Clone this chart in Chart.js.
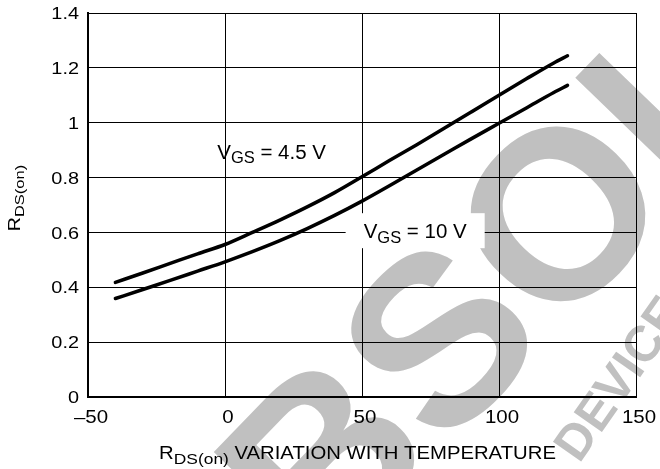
<!DOCTYPE html>
<html>
<head>
<meta charset="utf-8">
<script src="https://cdn.jsdelivr.net/npm/chart.js@4"></script>
<style>
  html, body { margin: 0; padding: 0; background: #fff; }
  #c { display: block; }
</style>
</head>
<body>
<canvas id="c" width="660" height="469"></canvas>
<script>
// ---- data ----
const temperatures = [-40, -30, -20, -10, 0, 10, 20, 30, 40, 50, 60, 70, 80, 90, 100, 110, 120, 125];
const rdsVgs45 = [0.418, 0.452, 0.487, 0.522, 0.556, 0.600, 0.645, 0.693, 0.745, 0.803, 0.862, 0.920, 0.980, 1.040, 1.100, 1.160, 1.218, 1.244];
const rdsVgs10 = [0.359, 0.392, 0.425, 0.459, 0.493, 0.530, 0.570, 0.614, 0.662, 0.714, 0.770, 0.828, 0.885, 0.942, 0.998, 1.054, 1.110, 1.136];
const xTickValues = [-50, 0, 50, 100, 150];
const xTickLabels = ['\u201350', '0', '50', '100', '150'];
const yTickValues = [0, 0.2, 0.4, 0.6, 0.8, 1, 1.2, 1.4];
const yTickLabels = ['0', '0.2', '0.4', '0.6', '0.8', '1', '1.2', '1.4'];
const seriesLabels = [
  { main: 'V', sub: 'GS', rest: ' = 4.5 V', t: 17, v: 0.868, box: false },
  { main: 'V', sub: 'GS', rest: ' = 10 V', t: 69.4, v: 0.579, box: true }
];

const FONT = '"Liberation Sans", Arial, Helvetica, sans-serif';

function setFont(ctx, size, bold) { ctx.font = (bold ? 'bold ' : '') + size + 'px ' + FONT; }

// draws text made of parts (some subscripted), horizontally stretched by sx
function drawParts(ctx, parts, x, y, size, subSize, subDrop, sx, align) {
  let total = 0;
  const widths = parts.map(p => { setFont(ctx, p.sub ? subSize : size); const w = ctx.measureText(p.text).width * sx; total += w; return w; });
  let cx = align === 'center' ? x - total / 2 : (align === 'right' ? x - total : x);
  ctx.textAlign = 'left';
  ctx.textBaseline = 'alphabetic';
  parts.forEach((p, i) => {
    setFont(ctx, p.sub ? subSize : size);
    ctx.save();
    ctx.translate(cx, p.sub ? y + subDrop : y);
    ctx.scale(sx, 1);
    ctx.fillText(p.text, 0, 0);
    ctx.restore();
    cx += widths[i];
  });
  return total;
}

const watermark = {
  id: 'watermark',
  beforeDraw(chart) {
    const ctx = chart.ctx;
    ctx.save();
    ctx.fillStyle = '#c0c0c0';
    ctx.save();
    ctx.translate(450, 350);
    ctx.rotate(-46 * Math.PI / 180);
    setFont(ctx, 240, true);
    const wOB = ctx.measureText('OB').width;
    const wS = ctx.measureText('S').width;
    ctx.textAlign = 'left';
    ctx.textBaseline = 'middle';
    ctx.fillText('OBSOLETE', -(wOB + wS / 2), 0);
    ctx.restore();
    ctx.save();
    ctx.translate(620, 382);
    ctx.rotate(-55 * Math.PI / 180);
    setFont(ctx, 50, true);
    const wD = ctx.measureText('DEV').width;
    ctx.textAlign = 'left';
    ctx.textBaseline = 'middle';
    ctx.fillText('DEVICE', -wD + 12, 0);
    ctx.restore();
    ctx.restore();
  }
};

const annotations = {
  id: 'annotations',
  beforeDatasetsDraw(chart) {
    const ctx = chart.ctx;
    const xs = chart.scales.x, ys = chart.scales.y;
    ctx.save();
    seriesLabels.forEach(l => {
      const px = xs.getPixelForValue(l.t);
      const py = ys.getPixelForValue(l.v);
      const parts = [{ text: l.main }, { text: l.sub, sub: true }, { text: l.rest }];
      let total = 0;
      parts.forEach(p => { setFont(ctx, p.sub ? 16.5 : 20.5); total += ctx.measureText(p.text).width; });
      if (l.box) {
        ctx.fillStyle = '#fff';
        ctx.fillRect(px - total / 2 - 18, py - 25, total + 36, 35);
      }
      ctx.fillStyle = '#000';
      drawParts(ctx, parts, px, py, 20.5, 16.5, 4.5, 1, 'center');
    });
    ctx.restore();
  },
  afterDraw(chart) {
    const ctx = chart.ctx;
    const xs = chart.scales.x, ys = chart.scales.y;
    ctx.save();
    ctx.fillStyle = '#000';
    yTickValues.forEach((v, i) => {
      const py = ys.getPixelForValue(v);
      drawParts(ctx, [{ text: yTickLabels[i] }], 79, py + 6.2, 17, 13, 0, 1.17, 'right');
    });
    xTickValues.forEach((v, i) => {
      const px = xs.getPixelForValue(v);
      drawParts(ctx, [{ text: xTickLabels[i] }], px + 3, 423, 17.5, 13, 0, 1.17, 'center');
    });
    drawParts(ctx, [{ text: 'R' }, { text: 'DS(on)', sub: true }, { text: ' VARIATION WITH TEMPERATURE' }],
      357.5, 459, 17.5, 15, 4.5, 1.16, 'center');
    ctx.translate(20, 198);
    ctx.rotate(-Math.PI / 2);
    drawParts(ctx, [{ text: 'R' }, { text: 'DS(on)', sub: true }], 0, 0, 16, 13.5, 4, 1.22, 'center');
    ctx.restore();
  }
};

new Chart(document.getElementById('c'), {
  type: 'line',
  data: {
    datasets: [
      {
        label: 'VGS = 4.5 V',
        data: temperatures.map((t, i) => ({ x: t, y: rdsVgs45[i] })),
        borderColor: '#000', borderWidth: 3.5, pointRadius: 0,
        cubicInterpolationMode: 'monotone', fill: false, borderCapStyle: 'round'
      },
      {
        label: 'VGS = 10 V',
        data: temperatures.map((t, i) => ({ x: t, y: rdsVgs10[i] })),
        borderColor: '#000', borderWidth: 3.5, pointRadius: 0,
        cubicInterpolationMode: 'monotone', fill: false, borderCapStyle: 'round'
      }
    ]
  },
  options: {
    responsive: false,
    animation: false,
    devicePixelRatio: 1,
    layout: { padding: { top: 13, right: 24, left: 0, bottom: 0 } },
    plugins: { legend: { display: false }, tooltip: { enabled: false } },
    scales: {
      x: {
        type: 'linear', min: -50, max: 150,
        afterFit(s) { s.height = 72; s.paddingLeft = 0; s.paddingRight = 0; },
        ticks: { stepSize: 50, display: false },
        grid: { color: '#000', lineWidth: 1, drawTicks: false },
        border: { color: '#000', width: 2 }
      },
      y: {
        type: 'linear', min: 0, max: 1.4,
        afterFit(s) { s.width = 88; s.paddingTop = 0; s.paddingBottom = 0; },
        ticks: { stepSize: 0.2, display: false },
        grid: { color: '#000', lineWidth: 1, drawTicks: false },
        border: { color: '#000', width: 2 }
      }
    }
  },
  plugins: [watermark, annotations]
});
</script>
</body>
</html>
